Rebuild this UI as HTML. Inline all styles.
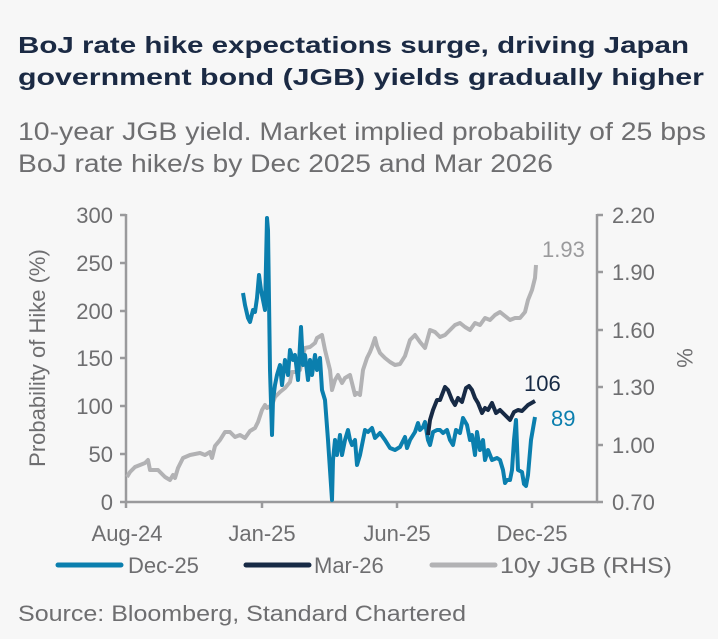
<!DOCTYPE html>
<html><head><meta charset="utf-8"><style>
html,body{margin:0;padding:0;background:#f7f7f7;}
svg{display:block;font-family:"Liberation Sans",sans-serif;}
</style></head><body>
<svg width="718" height="639" viewBox="0 0 718 639" xmlns="http://www.w3.org/2000/svg">
<rect width="718" height="639" fill="#f7f7f7"/>
<text x="18" y="53" font-size="23" font-weight="bold" fill="#1b2a44" textLength="671" lengthAdjust="spacingAndGlyphs">BoJ rate hike expectations surge, driving Japan</text>
<text x="18" y="85" font-size="23" font-weight="bold" fill="#1b2a44" textLength="686" lengthAdjust="spacingAndGlyphs">government bond (JGB) yields gradually higher</text>
<text x="18" y="140" font-size="25" fill="#6e6e70" textLength="688" lengthAdjust="spacingAndGlyphs">10-year JGB yield. Market implied probability of 25 bps</text>
<text x="18" y="172" font-size="25" fill="#6e6e70" textLength="535" lengthAdjust="spacingAndGlyphs">BoJ rate hike/s by Dec 2025 and Mar 2026</text>

<g stroke="#9a9a9c" stroke-width="2.5" fill="none">
<line x1="126" y1="214" x2="126" y2="503"/>
<line x1="126" y1="502" x2="598" y2="502"/>
<line x1="597" y1="214" x2="597" y2="503"/>
<line x1="120" y1="215" x2="126" y2="215"/><line x1="120" y1="263" x2="126" y2="263"/><line x1="120" y1="311" x2="126" y2="311"/><line x1="120" y1="358" x2="126" y2="358"/><line x1="120" y1="406" x2="126" y2="406"/><line x1="120" y1="454" x2="126" y2="454"/><line x1="120" y1="502" x2="126" y2="502"/>
<line x1="597" y1="215" x2="603" y2="215"/><line x1="597" y1="272" x2="603" y2="272"/><line x1="597" y1="330" x2="603" y2="330"/><line x1="597" y1="387" x2="603" y2="387"/><line x1="597" y1="445" x2="603" y2="445"/><line x1="597" y1="502" x2="603" y2="502"/>
<line x1="126" y1="502" x2="126" y2="508"/><line x1="262" y1="502" x2="262" y2="508"/><line x1="397" y1="502" x2="397" y2="508"/><line x1="532" y1="502" x2="532" y2="508"/>
</g>
<g font-size="22" fill="#6e6e70" text-anchor="end">
<text x="113" y="223">300</text><text x="113" y="271">250</text><text x="113" y="319">200</text><text x="113" y="366">150</text><text x="113" y="414">100</text><text x="113" y="462">50</text><text x="113" y="510">0</text>
</g>
<g font-size="22" fill="#6e6e70">
<text x="612" y="223">2.20</text><text x="612" y="280">1.90</text><text x="612" y="338">1.60</text><text x="612" y="395">1.30</text><text x="612" y="453">1.00</text><text x="612" y="510">0.70</text>
</g>
<g font-size="22" fill="#6e6e70" text-anchor="middle">
<text x="127" y="541">Aug-24</text><text x="262" y="541">Jan-25</text><text x="397" y="541">Jun-25</text><text x="532" y="541">Dec-25</text>
</g>
<text transform="translate(45 358) rotate(-90)" font-size="22" fill="#6e6e70" text-anchor="middle">Probability of Hike (%)</text>
<text transform="translate(677 358) rotate(90)" font-size="22" fill="#6e6e70" text-anchor="middle">%</text>

<polyline fill="none" stroke="#b2b2b4" stroke-width="4" stroke-linejoin="round" points="127,477 130,472 135,467 145,463 148,460 150,470 158,470 165,477 170,480 173,475 175,478 178,468 183,458 190,455 200,453 205,455 210,452 212,458 215,446 220,440 225,432 230,432 235,437 240,435 245,438 250,431 255,428 258,422 262,410 265,405 267,408 272,405 275,397 280,392 285,388 290,382 292,372 296,372 300,370 303,355 305,348 310,347 315,343 317,338 322,335 325,350 330,370 332,390 335,380 338,375 342,383 345,378 350,375 352,383 355,395 357,393 360,395 363,370 367,358 370,352 372,347 375,338 377,346 380,353 385,358 390,362 395,365 400,364 405,356 410,340 415,335 420,342 425,348 430,330 435,332 440,337 445,335 450,330 455,325 460,323 465,327 470,330 475,323 480,325 485,318 490,320 495,315 500,312 505,316 510,320 515,318 520,318 525,312 528,300 532,290 535,278 536,265"/>
<polyline fill="none" stroke="#0b7fae" stroke-width="4" stroke-linejoin="round" points="243,293 245,305 248,318 250,322 253,310 255,312 257,298 259,275 261,290 263,300 265,310 267,218 268,230 269,300 270,370 272,435 273,400 275,385 277,375 280,365 282,385 285,360 288,375 290,350 293,360 295,355 298,380 301,327 303,365 305,355 308,380 310,360 312,375 315,355 317,370 320,358 322,390 325,400 328,440 330,470 332,500 333,460 335,440 337,455 340,435 342,455 345,440 348,430 350,440 352,445 355,440 357,465 360,455 362,445 365,430 368,432 372,428 375,438 380,433 385,440 390,448 395,450 400,447 405,437 407,448 410,440 415,432 418,423 420,430 423,427 425,422 428,440 430,445 433,432 437,430 440,430 443,433 447,430 450,440 453,445 456,430 460,433 463,418 467,425 470,440 472,435 475,455 477,432 480,450 483,440 485,460 488,450 492,460 497,458 500,460 503,470 505,483 507,480 510,480 512,470 514,440 516,420 518,470 522,472 524,484 526,486 528,475 531,440 535,417"/>
<polyline fill="none" stroke="#172a45" stroke-width="4" stroke-linejoin="round" points="428,435 430,420 433,410 437,400 440,400 445,387 448,390 452,400 455,405 458,398 462,402 466,388 469,386 472,390 475,398 478,403 482,413 485,408 488,410 492,403 496,413 500,410 505,415 510,420 514,412 518,410 522,411 525,408 528,405 535,401"/>
<text x="542" y="257" font-size="22" fill="#9a9a9c">1.93</text>
<text x="524" y="391" font-size="22" fill="#172a45">106</text>
<text x="551" y="426" font-size="22" fill="#0b7fae">89</text>

<line x1="58" y1="565" x2="121" y2="565" stroke="#0b7fae" stroke-width="5" stroke-linecap="round"/>
<text x="128" y="573" font-size="22" fill="#6e6e70">Dec-25</text>
<line x1="246" y1="565" x2="309" y2="565" stroke="#172a45" stroke-width="5" stroke-linecap="round"/>
<text x="314" y="573" font-size="22" fill="#6e6e70">Mar-26</text>
<line x1="432" y1="565" x2="495" y2="565" stroke="#b2b2b4" stroke-width="5" stroke-linecap="round"/>
<text x="500" y="573" font-size="22" fill="#6e6e70" textLength="172" lengthAdjust="spacingAndGlyphs">10y JGB (RHS)</text>
<text x="18" y="621" font-size="22" fill="#6e6e70" textLength="448" lengthAdjust="spacingAndGlyphs">Source: Bloomberg, Standard Chartered</text>
</svg>
</body></html>
